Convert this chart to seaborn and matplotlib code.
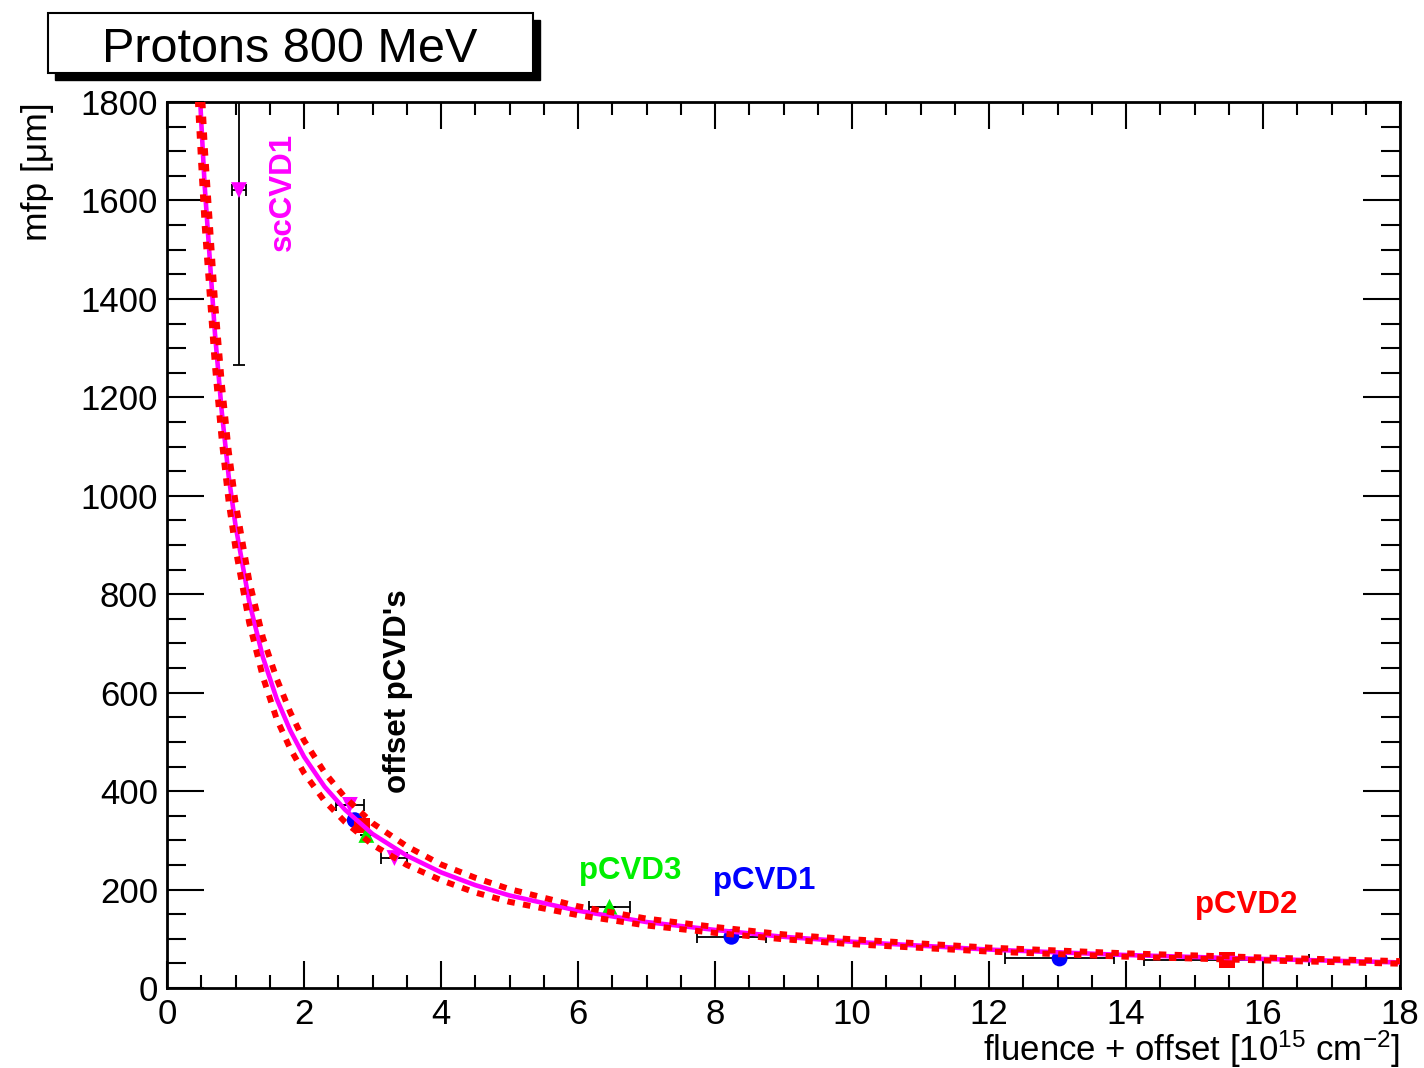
import numpy as np
import pandas as pd
import matplotlib
matplotlib.use('Agg')
import matplotlib.pyplot as plt
from matplotlib.patches import Rectangle
from matplotlib.ticker import MultipleLocator
import seaborn as sns

sns.set_theme(style='ticks')
plt.rcParams['font.family'] = ['Liberation Sans', 'DejaVu Sans']
plt.rcParams['mathtext.fontset'] = 'custom'
plt.rcParams['mathtext.rm'] = 'Liberation Sans'
plt.rcParams['mathtext.default'] = 'regular'

# fit curve and error band
fit_x = [0.45, 0.5, 0.55, 0.6, 0.7, 0.8, 0.9, 1.0, 1.2, 1.4, 1.6, 1.8, 2.0, 2.3, 2.6,
         3.0, 3.5, 4.0, 4.5, 5.0, 6.0, 7.0, 8.0, 9.0, 10.0, 12.0, 14.0, 16.0, 18.0]
fit_y = [1900, 1760, 1630, 1530, 1330, 1170, 1040, 940, 785, 672, 588, 523, 470, 409, 362,
         313, 269, 235, 209, 188, 157, 134, 118, 104, 94, 78, 67, 59, 52]
band_hi = [1995, 1848, 1711, 1606, 1396, 1228, 1092, 987, 828, 712, 629, 560, 503, 438, 387,
           335, 288, 251, 224, 201, 166, 141, 124, 109, 99, 82, 70.4, 62, 54.6]
band_lo = [1805, 1672, 1549, 1454, 1264, 1112, 988, 893, 742, 632, 547, 486, 437, 380, 337,
           291, 250, 219, 194, 175, 148, 127, 112, 99, 89, 74, 63.6, 56, 49.4]

# measured points
pt_sample = ['scCVD1', 'scCVD1', 'scCVD1', 'pCVD1', 'pCVD1', 'pCVD1', 'pCVD2', 'pCVD2', 'pCVD3', 'pCVD3']
pt_x = [1.05, 2.67, 3.32, 2.74, 8.24, 13.03, 2.85, 15.47, 2.91, 6.46]
pt_y = [1621, 372, 264, 341, 104, 60, 330, 57, 311, 165]
pt_xerr = [0.10, 0.20, 0.19, 0.0, 0.51, 0.80, 0.0, 1.20, 0.0, 0.30]
pt_yerr = [355, 0, 0, 0, 0, 0, 0, 0, 0, 0]

colors = {'scCVD1': '#ff00ff', 'pCVD1': '#0000ff', 'pCVD2': '#ff0000', 'pCVD3': '#00ee00'}
markers = {'scCVD1': 'v', 'pCVD1': 'o', 'pCVD2': 's', 'pCVD3': '^'}

df = pd.DataFrame({'sample': pt_sample, 'x': pt_x, 'y': pt_y, 'xerr': pt_xerr, 'yerr': pt_yerr})
fit = pd.DataFrame({'x': fit_x, 'y': fit_y, 'hi': band_hi, 'lo': band_lo})

fig = plt.figure(figsize=(14.24, 10.68), dpi=100)
ax = fig.add_axes([167 / 1424, 1 - 988 / 1068, 1233 / 1424, 886 / 1068])

# error bars
ax.errorbar(df['x'], df['y'], xerr=df['xerr'], yerr=df['yerr'], fmt='none',
            ecolor='black', elinewidth=1.3, capsize=4, capthick=1.3, zorder=2)

sns.scatterplot(data=df, x='x', y='y', hue='sample', style='sample', palette=colors,
                markers=markers, s=130, linewidth=0, legend=False, ax=ax, zorder=3)

sns.lineplot(data=fit, x='x', y='y', color='#ff00ff', lw=3.3, sort=False,
             estimator=None, ax=ax, zorder=4)
for col in ['hi', 'lo']:
    sns.lineplot(data=fit, x='x', y=col, color='#ff0000', lw=4.3, sort=False,
                 estimator=None, linestyle=(0, (1.25, 1.4)), ax=ax, zorder=5)

ax.set_xlim(0, 18)
ax.set_ylim(0, 1800)
ax.xaxis.set_major_locator(MultipleLocator(2))
ax.xaxis.set_minor_locator(MultipleLocator(0.5))
ax.yaxis.set_major_locator(MultipleLocator(200))
ax.yaxis.set_minor_locator(MultipleLocator(50))

for s in ax.spines.values():
    s.set_linewidth(2)
    s.set_color('black')

ax.tick_params(axis='both', which='both', direction='in', top=True, right=True,
               color='black', width=1.5, labelsize=25, labelcolor='black')
ax.tick_params(axis='x', which='major', length=19.4, pad=7)
ax.tick_params(axis='x', which='minor', length=9.4)
ax.tick_params(axis='y', which='major', length=26.6, pad=6.5)
ax.tick_params(axis='y', which='minor', length=13.4)

ax.set_xlabel('fluence + offset [10$^{15}$ cm$^{-2}$]', fontsize=25, color='black', ha='right')
ax.xaxis.set_label_coords(1.0, -0.046)
ax.set_ylabel('mfp [\u03bcm]', fontsize=25.5, color='black', ha='right')
ax.yaxis.set_label_coords(-0.0915, 1.0)

# sample labels
bold = dict(fontsize=22.5, fontweight='bold', ha='center', va='center')
ax.text(1.69, 1617, 'scCVD1', color='#ff00ff', rotation=90, **bold)
ax.text(3.37, 603, "offset pCVD's", color='black', rotation=90, **bold)
ax.text(6.76, 238, 'pCVD3', color='#00ee00', **bold)
ax.text(8.72, 217, 'pCVD1', color='#0000ff', **bold)
ax.text(15.76, 169, 'pCVD2', color='#ff0000', **bold)

# title box with shadow
fig.patches.append(Rectangle((55 / 1424, 1 - 80 / 1068), 485 / 1424, 60 / 1068,
                             transform=fig.transFigure, facecolor='black', edgecolor='black', zorder=1))
fig.patches.append(Rectangle((48 / 1424, 1 - 73 / 1068), 485 / 1424, 60 / 1068,
                             transform=fig.transFigure, facecolor='white', edgecolor='black',
                             linewidth=1.5, zorder=2))
fig.text(290 / 1424, 1 - 62 / 1068, 'Protons 800 MeV', fontsize=35, color='black',
         ha='center', va='baseline', zorder=3)

fig.savefig('out.png', dpi=100, facecolor='white')
